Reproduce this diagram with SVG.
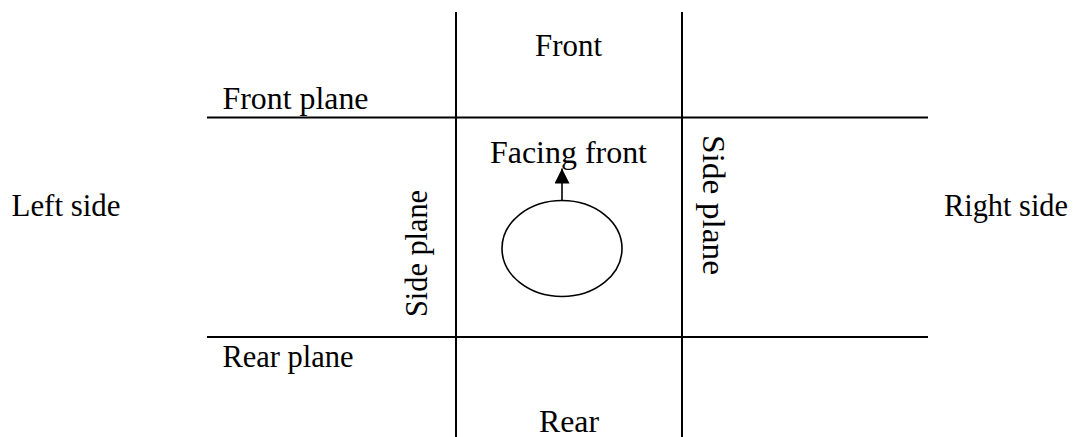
<svg xmlns="http://www.w3.org/2000/svg" width="1077" height="437" viewBox="0 0 1077 437">
<style>
.t{font-family:"Liberation Serif","Times New Roman",serif;font-size:31px;fill:#000}
.ln{stroke:#000;stroke-width:2;fill:none}
</style>
<defs>
<marker id="ah" markerUnits="userSpaceOnUse" markerWidth="16" markerHeight="16" refX="15" refY="7.5" orient="auto">
<path d="M0,0 L15,7.5 L0,15 Z" fill="#000"/>
</marker>
</defs>
<rect width="1077" height="437" fill="#fff"/>
<g id="grid">
<line class="ln" x1="456" y1="12" x2="456" y2="437"/>
<line class="ln" x1="682" y1="12" x2="682" y2="437"/>
<line class="ln" x1="207" y1="117.5" x2="928" y2="117.5"/>
<line class="ln" x1="207" y1="337" x2="928" y2="337"/>
</g>
<g id="labels">
<text class="t" x="535" y="55.5" textLength="67" lengthAdjust="spacingAndGlyphs">Front</text>
<text class="t" x="222.5" y="109" textLength="146" lengthAdjust="spacingAndGlyphs">Front plane</text>
<text class="t" x="11.5" y="216" textLength="109" lengthAdjust="spacingAndGlyphs">Left side</text>
<text class="t" x="944" y="216" textLength="124" lengthAdjust="spacingAndGlyphs">Right side</text>
<text class="t" x="222.5" y="367" textLength="131" lengthAdjust="spacingAndGlyphs">Rear plane</text>
<text class="t" x="539" y="432" textLength="60" lengthAdjust="spacingAndGlyphs">Rear</text>
<text class="t" transform="translate(427,317) rotate(-90)" textLength="127" lengthAdjust="spacingAndGlyphs">Side plane</text>
<text class="t" transform="translate(703,135) rotate(90)" textLength="140" lengthAdjust="spacingAndGlyphs">Side plane</text>
</g>
<g id="person">
<ellipse cx="562" cy="248.5" rx="60" ry="48" fill="none" stroke="#000" stroke-width="1.6"/>
<text class="t" x="490" y="162.5" textLength="157" lengthAdjust="spacingAndGlyphs">Facing front</text>
</g>
<g id="connectors">
<line x1="562" y1="200.5" x2="562" y2="168.5" stroke="#000" stroke-width="1.6" marker-end="url(#ah)"/>
</g>
</svg>
